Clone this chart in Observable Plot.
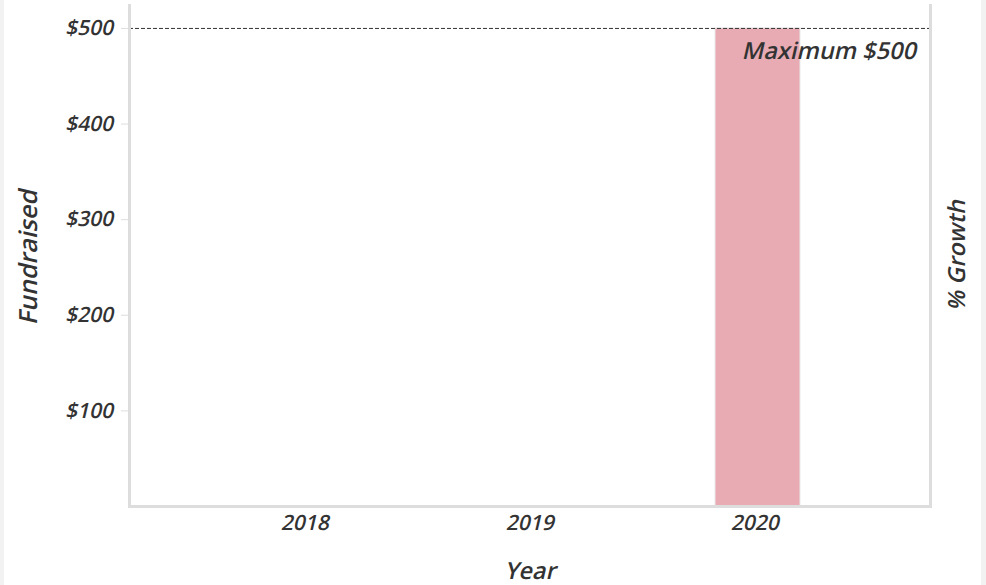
<!DOCTYPE html>
<html>
<head>
<meta charset="utf-8">
<script src="https://cdn.jsdelivr.net/npm/d3@7"></script>
<script src="https://cdn.jsdelivr.net/npm/@observablehq/plot@0.6"></script>
<style>
  html, body { margin: 0; padding: 0; background: #f2f2f2; }
  #card { position: absolute; left: 4px; top: 0; width: 977px; height: 585px; background: #ffffff; }
  svg, svg text { font-family: "Open Sans", sans-serif; }
</style>
</head>
<body>
<div id="card"></div>
<script>
const years = ["2018", "2019", "2020"];
const fundraised = [0, 0, 500];
const maximum = 500;
const yTicks = [100, 200, 300, 400, 500];
const yLabel = "Fundraised";
const y2Label = "% Growth";
const xLabel = "Year";

const data = years.map((year, i) => ({year, value: fundraised[i]}));

// upright face, slanted afterwards (synthetic oblique look of the reference)
const textStyle = {fontFamily: "Open Sans", fontWeight: 600, fontStyle: "normal", fill: "#333333"};

const chart = Plot.plot({
  width: 977,
  height: 585,
  marginLeft: 125,
  marginRight: 51,
  marginTop: 5,
  marginBottom: 79,
  style: {background: "transparent", overflow: "visible"},
  x: {domain: years, paddingInner: 0.6235, paddingOuter: 0.586, align: 0.51, label: null},
  y: {domain: [0, 524], label: null},
  marks: [
    Plot.barY(data, {x: "year", y: "value", fill: "#e8abb3", stroke: "#e9e9e9", strokeWidth: 1}),
    Plot.ruleY([maximum], {stroke: "#333333", strokeWidth: 1, strokeDasharray: "4,2"}),
    Plot.text([maximum], {y: d => d, frameAnchor: "right", dx: -13, dy: 23, textAnchor: "end",
      text: d => "Maximum $" + d, fontSize: 23.5, ...textStyle}),
    Plot.frame({anchor: "left", stroke: "#dddddd", strokeWidth: 3}),
    Plot.frame({anchor: "right", stroke: "#dddddd", strokeWidth: 3}),
    Plot.frame({anchor: "bottom", stroke: "#dddddd", strokeWidth: 3}),
    Plot.axisY({ticks: yTicks, tickFormat: d => "$" + d, tickSize: 8, tickPadding: 7,
      stroke: "#dddddd", fontSize: 21, label: null, ...textStyle}),
    Plot.axisX({tickSize: 0, tickPadding: 9, fontSize: 21, label: null, ...textStyle}),
    Plot.text([yLabel], {text: d => d, frameAnchor: "left", dx: -101, rotate: -90, textAnchor: "middle", fontSize: 25, ...textStyle}),
    Plot.text([y2Label], {text: d => d, frameAnchor: "right", dx: 27, dy: -2, rotate: -90, textAnchor: "middle", fontSize: 23.5, ...textStyle}),
    Plot.text([xLabel], {text: d => d, frameAnchor: "bottom", dy: 72, fontSize: 23.5, ...textStyle})
  ]
});
document.getElementById("card").appendChild(chart);

// slant every label about its own anchor point
chart.querySelectorAll("text").forEach(t => {
  const tr = t.getAttribute("transform") || "";
  const ax = parseFloat(t.getAttribute("x")) || 0;
  const ay = parseFloat(t.getAttribute("y")) || 0;
  t.setAttribute("transform", `${tr} translate(${ax},${ay}) skewX(-13) translate(${-ax},${-ay})`.trim());
});
</script>
</body>
</html>
